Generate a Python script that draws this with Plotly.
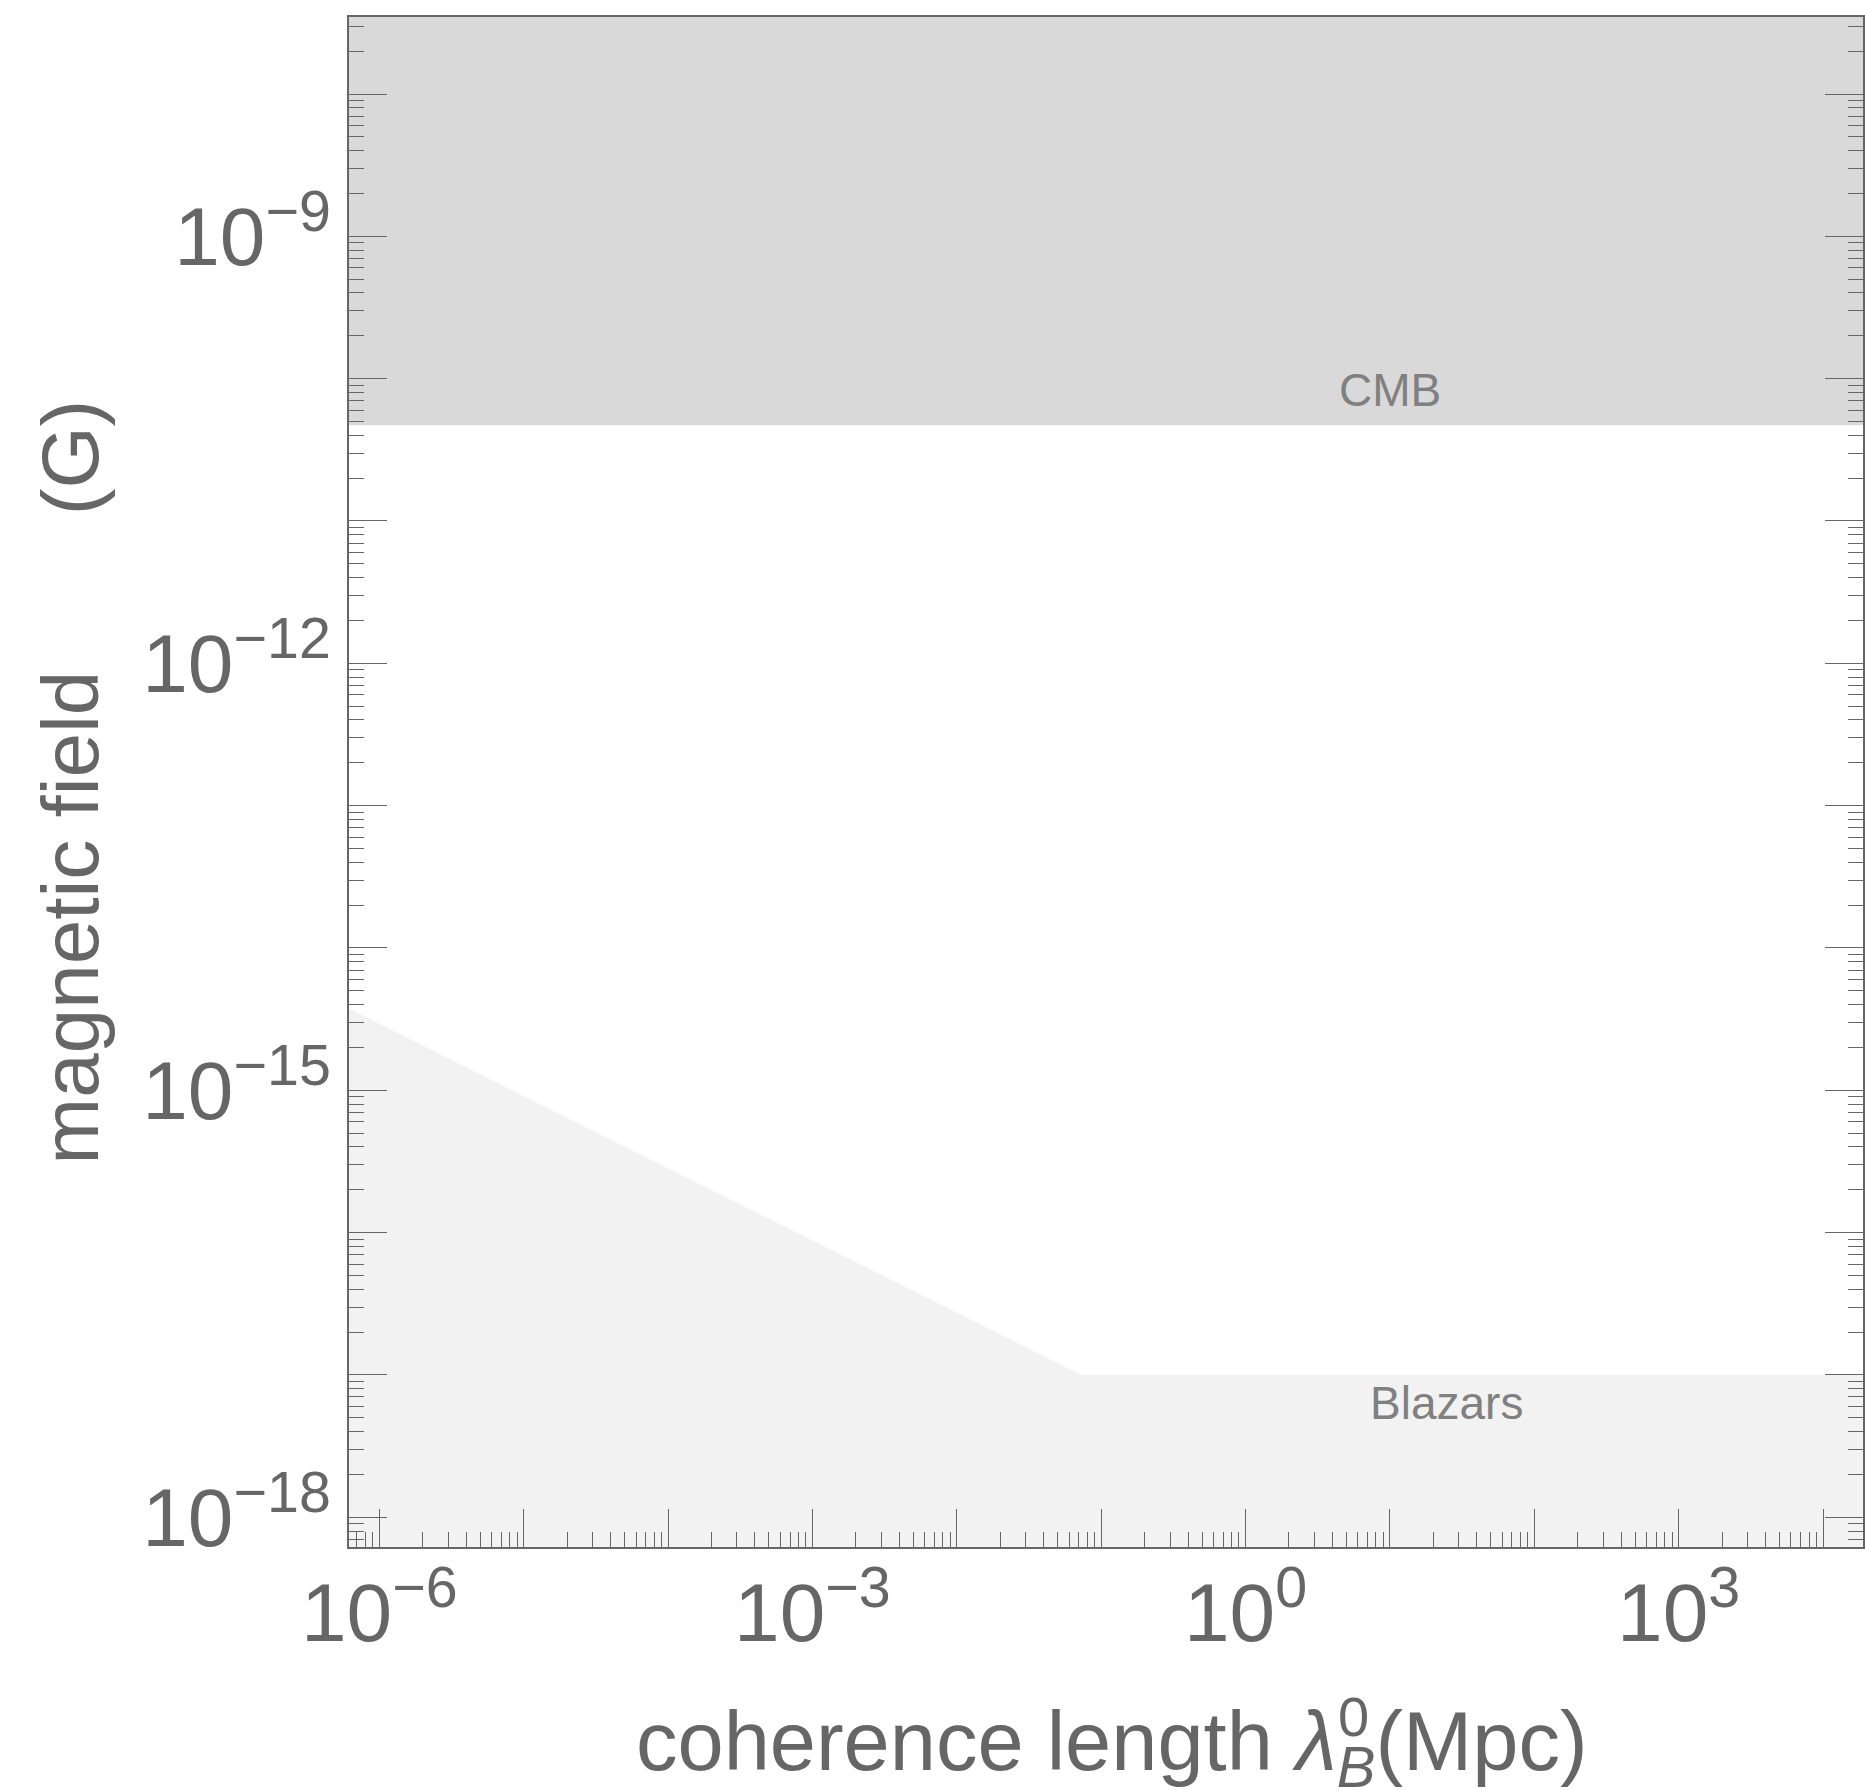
import plotly.graph_objects as go

# --- data -----------------------------------------------------------------
# CMB upper bound on the magnetic field (excluded region above it)
cmb_lambda = [6.0e-7, 3.0e4]          # Mpc
cmb_B = [4.7e-11, 4.7e-11]            # G

# Blazar lower bound on the magnetic field (excluded region below it)
blazar_lambda = [6.0e-7, 7.3e-2, 3.0e4]   # Mpc
blazar_B = [3.8e-15, 1.0e-17, 1.0e-17]    # G

# axis extents (log10)
x_range = [-6.21, 4.277]
y_range = [-18.209, -7.459]

x_label_decades = [-6, -3, 0, 3]
y_label_decades = [-18, -15, -12, -9]

# --- styling --------------------------------------------------------------
FONT = "Liberation Sans, Arial, Helvetica, sans-serif"
AXIS_GREY = "#666666"
TEXT_GREY = "#666666"
LABEL_GREY = "#808080"
CMB_FILL = "#d9d9d9"
BLAZAR_FILL = "#f2f2f2"

y_top = 10 ** (y_range[1] + 0.5)
y_bottom = 10 ** (y_range[0] - 0.5)

fig = go.Figure()

# Excluded by CMB: everything above the bound
fig.add_trace(go.Scatter(
    x=cmb_lambda + cmb_lambda[::-1],
    y=cmb_B + [y_top, y_top],
    fill="toself", fillcolor=CMB_FILL, mode="lines",
    line=dict(width=0, color=CMB_FILL), hoverinfo="skip", showlegend=False,
))

# Excluded by blazars: everything below the bound
fig.add_trace(go.Scatter(
    x=blazar_lambda + blazar_lambda[::-1],
    y=blazar_B + [y_bottom] * len(blazar_lambda),
    fill="toself", fillcolor=BLAZAR_FILL, mode="lines",
    line=dict(width=0, color=BLAZAR_FILL), hoverinfo="skip", showlegend=False,
))


def decade_ticks(lo, hi, labelled):
    vals, text = [], []
    for d in range(int(lo) - 1, int(hi) + 2):
        vals.append(10.0 ** d)
        text.append(f"10<sup>{'\u2212' if d < 0 else ''}{abs(d)}</sup>" if d in labelled else "")
    return vals, text


def minor_ticks(lo, hi):
    out = []
    for d in range(int(lo) - 2, int(hi) + 2):
        for k in range(2, 10):
            out.append(k * 10.0 ** d)
    return out


xt_vals, xt_text = decade_ticks(x_range[0], x_range[1], x_label_decades)
yt_vals, yt_text = decade_ticks(y_range[0], y_range[1], y_label_decades)

axis_common = dict(
    type="log", showgrid=False, zeroline=False,
    showline=True, linecolor=AXIS_GREY, linewidth=1.5,
    ticks="inside", ticklen=38, tickwidth=1.3, tickcolor=AXIS_GREY,
    tickfont=dict(family=FONT, size=82, color=TEXT_GREY),
    tickmode="array",
)

fig.update_xaxes(
    **axis_common, range=x_range, tickvals=xt_vals, ticktext=xt_text,
    mirror=True, ticklabelstandoff=-6,
    minor=dict(ticks="inside", ticklen=15, tickwidth=1.3, tickcolor=AXIS_GREY,
               tickvals=minor_ticks(x_range[0], x_range[1]), showgrid=False),
)
fig.update_yaxes(
    **axis_common, range=y_range, tickvals=yt_vals, ticktext=yt_text,
    mirror="ticks",
    minor=dict(ticks="inside", ticklen=15, tickwidth=1.3, tickcolor=AXIS_GREY,
               tickvals=minor_ticks(y_range[0], y_range[1]), showgrid=False),
)

NB = "\u00a0"
annotations = [
    # region labels
    dict(x=1.0, y=-10.08, xref="x", yref="y", text="CMB", showarrow=False,
         font=dict(family=FONT, size=46, color=LABEL_GREY)),
    dict(x=1.393, y=-17.199, xref="x", yref="y", text="Blazars", showarrow=False,
         font=dict(family=FONT, size=46, color=LABEL_GREY)),
    # y-axis title
    dict(x=-0.184, y=0.5, xref="paper", yref="paper", textangle=-90,
         text="magnetic field" + NB * 7 + "(G)", showarrow=False,
         xanchor="center", yanchor="middle",
         font=dict(family=FONT, size=80, color=TEXT_GREY)),
    # x-axis title
    dict(x=0.504, y=-0.131, xref="paper", yref="paper",
         text="coherence length <i>\u03bb</i><sub><i>B</i></sub>(Mpc)",
         showarrow=False, xanchor="center", yanchor="middle",
         font=dict(family=FONT, size=83, color=TEXT_GREY)),
    dict(x=0.652, y=-0.111, xref="paper", yref="paper", text="0",
         showarrow=False, xanchor="left", yanchor="middle",
         font=dict(family=FONT, size=56, color=TEXT_GREY)),
]

fig.update_layout(
    width=1865, height=1790,
    margin=dict(l=349, r=0, t=17, b=243),
    paper_bgcolor="white", plot_bgcolor="white",
    showlegend=False,
    annotations=annotations,
)

fig.write_html("out.html")
